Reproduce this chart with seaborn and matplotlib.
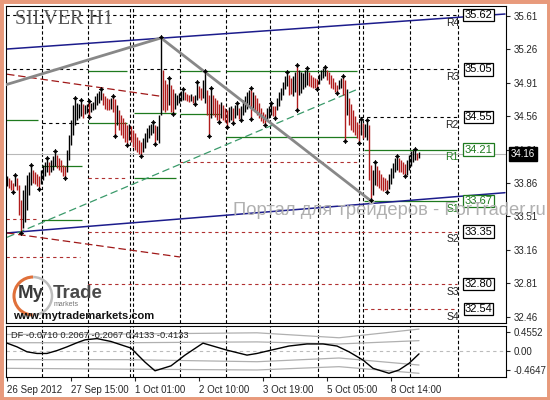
import matplotlib
matplotlib.use('Agg')
import matplotlib.pyplot as plt
import seaborn as sns
from matplotlib.patches import Arc, Rectangle

# ---- H1 bars (price), one entry per bar, oldest first
highs = [33.93, 33.91, 33.89, 33.86, 33.94, 33.91, 33.84, 33.68, 33.79, 33.84,
         33.94, 33.97, 34.05, 34.00, 33.97, 33.95, 33.93, 34.00, 34.05, 34.08,
         34.12, 34.08, 34.10, 34.14, 34.19, 34.15, 34.12, 34.10, 34.05, 34.04,
         34.21, 34.36, 34.52, 34.68, 34.75, 34.70, 34.69, 34.73, 34.69, 34.68,
         34.69, 34.72, 34.70, 34.71, 34.77, 34.80, 34.82, 34.84, 34.80, 34.77,
         34.75, 34.74, 34.75, 34.77, 34.74, 34.68, 34.63, 34.57, 34.54, 34.50,
         34.47, 34.48, 34.46, 34.42, 34.38, 34.34, 34.31, 34.29, 34.33, 34.38,
         34.44, 34.47, 34.48, 34.50, 34.47, 34.46, 34.57, 35.39, 35.04, 34.94,
         34.90, 34.96, 34.89, 34.84, 34.80, 34.78, 34.80, 34.82, 34.84, 34.81,
         34.79, 34.78, 34.79, 34.77, 34.78, 34.92, 34.88, 34.86, 34.94, 35.03,
         34.83, 34.78, 34.86, 34.78, 34.75, 34.73, 34.69, 34.71, 34.68, 34.65,
         34.63, 34.66, 34.67, 34.65, 34.68, 34.70, 34.65, 34.67, 34.73, 34.77,
         34.81, 34.83, 34.86, 34.81, 34.78, 34.75, 34.70, 34.65, 34.60, 34.58,
         34.65, 34.67, 34.70, 34.67, 34.67, 34.75, 34.81, 34.86, 34.92, 34.98,
         35.02, 34.99, 34.96, 34.98, 35.02, 35.10, 35.04, 35.02, 35.01, 35.04,
         35.07, 35.02, 34.99, 34.97, 34.96, 34.95, 35.00, 35.04, 35.07, 35.08,
         35.04, 35.02, 34.99, 34.96, 34.92, 34.89, 34.94, 34.96, 34.98, 34.94,
         34.84, 34.75, 34.69, 34.63, 34.56, 34.50, 34.48, 34.53, 34.49, 34.48,
         34.52, 34.47, 34.05, 34.00, 34.08, 34.04, 34.00, 33.95, 33.92, 33.91,
         33.89, 33.95, 34.02, 34.07, 34.12, 34.14, 34.12, 34.10, 34.08, 34.06,
         34.10, 34.15, 34.19, 34.21, 34.22, 34.17, 34.18]
lows = [33.83, 33.81, 33.79, 33.76, 33.83, 33.79, 33.52, 33.34, 33.39, 33.45,
        33.58, 33.73, 33.84, 33.86, 33.85, 33.83, 33.80, 33.85, 33.89, 33.93,
        33.97, 33.94, 33.97, 34.00, 34.04, 34.02, 34.00, 33.97, 33.93, 33.91,
        33.97, 34.10, 34.26, 34.36, 34.47, 34.52, 34.54, 34.56, 34.54, 34.58,
        34.59, 34.55, 34.60, 34.63, 34.64, 34.68, 34.70, 34.73, 34.68, 34.64,
        34.63, 34.62, 34.64, 34.60, 34.35, 34.47, 34.42, 34.36, 34.33, 34.29,
        34.26, 34.31, 34.29, 34.24, 34.21, 34.18, 34.16, 34.14, 34.18, 34.23,
        34.29, 34.33, 34.36, 34.38, 34.27, 34.31, 34.28, 34.57, 34.63, 34.60,
        34.63, 34.68, 34.60, 34.58, 34.64, 34.68, 34.70, 34.72, 34.73, 34.73,
        34.72, 34.71, 34.72, 34.70, 34.69, 34.73, 34.75, 34.73, 34.75, 34.70,
        34.57, 34.35, 34.54, 34.57, 34.55, 34.52, 34.50, 34.54, 34.52, 34.50,
        34.45, 34.50, 34.52, 34.49, 34.54, 34.57, 34.53, 34.52, 34.57, 34.60,
        34.64, 34.67, 34.53, 34.63, 34.60, 34.57, 34.54, 34.51, 34.49, 34.47,
        34.52, 34.54, 34.57, 34.56, 34.54, 34.63, 34.67, 34.73, 34.78, 34.84,
        34.88, 34.78, 34.79, 34.77, 34.81, 34.63, 34.78, 34.80, 34.84, 34.87,
        34.89, 34.88, 34.87, 34.86, 34.86, 34.85, 34.90, 34.94, 34.96, 34.98,
        34.94, 34.90, 34.86, 34.84, 34.81, 34.80, 34.84, 34.86, 34.78, 34.30,
        34.57, 34.47, 34.42, 34.39, 34.36, 34.33, 34.28, 34.36, 34.33, 34.34,
        34.31, 33.89, 33.68, 33.73, 33.84, 33.83, 33.81, 33.79, 33.78, 33.79,
        33.77, 33.80, 33.85, 33.91, 33.97, 34.00, 33.97, 33.97, 33.95, 33.93,
        33.94, 34.00, 34.04, 34.08, 34.10, 34.10, 34.12]
last_price = 34.16

# x axis labels (bar number, text)
tick_bars = [0, 32, 64, 96, 128, 160, 192]
tick_text = ['26 Sep 2012', '27 Sep 15:00', '1 Oct 01:00', '2 Oct 10:00',
             '3 Oct 19:00', '5 Oct 05:00', '8 Oct 14:00']
price_ticks = [35.61, 35.26, 34.91, 34.56, 34.21, 33.86, 33.51, 33.16, 32.81, 32.46]

# day separators (bar positions)
separators = [17.35, 40.35, 61.5, 63.15, 86.5, 109.35, 131.5, 155.35, 176.15, 178.15, 201.5, 225.35]

# pivot segments: (price, from bar, to bar)
r_segments = [(35.62, -0.5, 225), (35.05, -0.5, 40.5), (35.05, 61.5, 86.5),
              (35.05, 176.5, 225), (34.55, 176.5, 225), (34.49, 17.5, 38)]
p_segments = [(34.52, -0.5, 15.5), (34.04, 17.5, 37.5), (33.47, 17.5, 37.5),
              (35.03, 40.5, 60), (34.49, 40.5, 60), (34.59, 63.5, 84.5),
              (33.91, 63.5, 84.5), (35.03, 86.5, 106.5), (34.58, 86.5, 106.5),
              (35.03, 109.5, 175), (34.34, 109.5, 175), (34.21, 178.5, 225),
              (33.67, 178.5, 225)]
s_segments = [(33.48, -0.5, 15.5), (33.08, -0.5, 36.5), (33.91, 40.5, 60),
              (34.08, 86.5, 175), (33.35, 40.5, 225), (32.80, 40.5, 225),
              (32.54, 178.5, 225)]

# current day levels shown on the right
level_names = ['R4', 'R3', 'R2', 'R1', 'S1', 'S2', 'S3', 'S4']
level_values = [35.62, 35.05, 34.55, 34.21, 33.67, 33.35, 32.80, 32.54]

# trend lines: (bar, price) pairs
blue_top = ([0, 249], [35.264, 35.631])
blue_low = ([0, 249], [33.336, 33.758])
zigzag = ([-0.5, 77, 181.5], [34.89, 35.38, 33.68])
red_top = ([0, 76.5], [35.00, 34.77])
red_low = ([0, 86.5], [33.336, 33.084])
green_tl = ([0, 175], [33.29, 34.84])

# DF indicator
df_bars = [0, 5, 10, 15, 20, 25, 30, 35, 39, 45, 52, 62, 69, 74, 82, 89, 98, 110,
           120, 125, 132, 141, 150, 158, 165, 171, 178, 183, 191, 196, 201, 206]
df_vals = [0.19, 0.10, -0.02, -0.06, -0.06, 0.01, 0.10, 0.20, 0.27, 0.30, 0.23, 0.07,
           -0.27, -0.48, -0.36, -0.10, 0.19, 0.02, -0.10, -0.06, 0.02, 0.12, 0.17,
           0.17, 0.12, -0.02, -0.22, -0.42, -0.54, -0.46, -0.30, -0.07]
band_bars = [0, 60, 125, 166, 206]
band_up2 = [0.40, 0.41, 0.44, 0.32, 0.53]
band_up1 = [0.20, 0.20, 0.22, 0.17, 0.25]
band_dn1 = [-0.21, -0.21, -0.26, -0.17, -0.34]
band_dn2 = [-0.42, -0.44, -0.46, -0.38, -0.54]

sns.set_style('white')
plt.rcParams['font.family'] = ['Liberation Sans', 'DejaVu Sans']

W, H = 550, 400
fig = plt.figure(figsize=(5.5, 4), dpi=100)
ax = fig.add_axes([6 / W, 1 - 323 / H, 499.5 / W, 317 / H])
ax2 = fig.add_axes([6 / W, 1 - 377 / H, 499.5 / W, 51.5 / H], sharex=ax)

GREEN = '#1e7a1e'
RED = '#b03030'
DARKRED = '#a01818'
NAVY = '#1c1c8c'

for a in (ax, ax2):
    for sp in a.spines.values():
        sp.set_color('black')
        sp.set_linewidth(0.8)
    for s in separators:
        a.axvline(s, color='black', lw=0.8, ls=(0, (3, 2)), zorder=1)

# pivot segments
for y, x0, x1 in r_segments:
    ax.hlines(y, x0, x1, colors='black', lw=0.8, linestyles=(0, (3, 3)), zorder=1)
for y, x0, x1 in p_segments:
    ax.hlines(y, x0, x1, colors=GREEN, lw=0.9, zorder=1)
for y, x0, x1 in s_segments:
    ax.hlines(y, x0, x1, colors=RED, lw=0.8, linestyles=(0, (3, 3)), zorder=1)

ax.axhline(last_price, color='#b8b8b8', lw=0.8, zorder=1)

# trend lines
ax.plot(*blue_top, color=NAVY, lw=1.1, zorder=2)
ax.plot(*blue_low, color=NAVY, lw=1.1, zorder=2)
ax.plot(*red_top, color=DARKRED, lw=0.9, ls=(0, (6, 3)), zorder=2)
ax.plot(*red_low, color=DARKRED, lw=0.9, ls=(0, (6, 3)), zorder=2)
ax.plot(*green_tl, color='#3a9a6a', lw=0.9, ls=(0, (6, 3)), zorder=2)

# bars
n = len(highs)
idx = list(range(n))
mids = [(h + l) / 2 for h, l in zip(highs, lows)]
cols = ['black' if i == 0 or mids[i] >= mids[i - 1] else '#b01c1c' for i in idx]
ax.vlines(idx, lows, highs, colors=cols, lw=1.0, zorder=3)

ax.plot(*zigzag, color='#888888', lw=2.0, zorder=4, solid_capstyle='round')

# fractals
fx_up, fy_up, fx_dn, fy_dn = [], [], [], []
for i in range(2, n - 2):
    if highs[i] > max(highs[i - 2:i]) and highs[i] >= max(highs[i + 1:i + 3]):
        fx_up.append(i)
        fy_up.append(highs[i])
    if lows[i] < min(lows[i - 2:i]) and lows[i] <= min(lows[i + 1:i + 3]):
        fx_dn.append(i)
        fy_dn.append(lows[i])
sns.scatterplot(x=fx_up + fx_dn, y=fy_up + fy_dn, ax=ax, marker=(4, 1, 0), s=10,
                color='black', edgecolor='black', linewidth=0.5, zorder=5)

ax.set_xlim(-0.5, 249.25)
ax.set_ylim(32.392, 35.715)
ax.yaxis.tick_right()
ax.set_yticks(price_ticks)
ax.set_yticklabels([f'{v:.2f}' for v in price_ticks])
ax.tick_params(axis='y', labelsize=7, length=3, width=0.8, pad=3, direction='out', right=True)
ax.tick_params(axis='x', bottom=False, labelbottom=False)
ax.set_xlabel('')
ax.set_ylabel('')

# right side level boxes
for name, val in zip(level_names, level_values):
    c = GREEN if name in ('R1', 'S1') else 'black'
    ax.text(235.75, val, f'{val:.2f}', ha='center', va='center', fontsize=8, color=c,
            zorder=6, bbox=dict(boxstyle='square,pad=0.1', fc='white', ec=c, lw=0.9))
    ax.annotate(name, (226, val), xytext=(0, -5.5), textcoords='offset points',
                ha='right', va='center', fontsize=7.5, color=c if c != 'black' else '#222222',
                zorder=6)

ax.annotate(f'{last_price:.2f}', xy=(1.0, last_price), xycoords=('axes fraction', 'data'),
            xytext=(4, 0), textcoords='offset points', ha='left', va='center', fontsize=7,
            color='white', annotation_clip=False, zorder=10,
            bbox=dict(boxstyle='square,pad=0.2', fc='black', ec='black'))

# logo
ax.add_patch(Arc((13, 32.675), 19, 0.398, theta1=70, theta2=250, color='#e0703a', lw=2.2, zorder=6))
ax.add_patch(Arc((13, 32.675), 19, 0.398, theta1=250, theta2=430, color='#bdbdbd', lw=1.8, zorder=6))
fig.text(18 / W, 1 - 293 / H, 'My', fontsize=13.5, fontweight='bold', color='#3a3a3a', va='center')
fig.text(53 / W, 1 - 293 / H, 'Trade', fontsize=13.5, fontweight='bold', color='#4a4a4a', va='center')
fig.text(54 / W, 1 - 305 / H, 'markets', fontsize=5, color='#777777', va='center')
fig.text(13 / W, 1 - 316 / H, 'www.mytrademarkets.com', fontsize=8, fontweight='bold',
         color='#111111', va='center')

fig.text(15 / W, 1 - 19 / H, 'SILVER H1', family=['Liberation Serif'], fontsize=14.5,
         color='#555555', va='center')
fig.text(233 / W, 1 - 210 / H, 'Портал для трейдеров - ForTrader.ru', fontsize=13.2,
         color='#b0b0b0', va='center')

# DF panel
ax2.axhline(0, color='#bbbbbb', lw=0.8, ls=(0, (3, 3)))
for band in (band_up2, band_up1, band_dn1, band_dn2):
    sns.lineplot(x=band_bars, y=band, ax=ax2, color='#b0b0b0', lw=0.9)
sns.lineplot(x=df_bars, y=df_vals, ax=ax2, color='black', lw=1.0)
ax2.text(0.01, 0.80, 'DF -0.0710 0.2067 -0.2067 0.4133 -0.4133', transform=ax2.transAxes,
         fontsize=6.7, va='center')
ax2.set_ylim(-0.63, 0.617)
ax2.yaxis.tick_right()
ax2.set_yticks([0.4552, 0.0, -0.4647])
ax2.set_yticklabels(['0.4552', '0.00', '-0.4647'])
ax2.tick_params(axis='y', labelsize=7, length=3, width=0.8, pad=3, direction='out', right=True)
ax2.set_xticks(tick_bars)
ax2.set_xticklabels(tick_text, ha='left')
ax2.tick_params(axis='x', labelsize=7, length=3, width=0.8, pad=3, direction='out', bottom=True)
ax2.set_xlabel('')
ax2.set_ylabel('')

fig.patches.append(Rectangle((0, 0), 1, 1, transform=fig.transFigure, fill=False,
                             edgecolor='#e89a7c', lw=5))

fig.savefig('out.png', dpi=100)
